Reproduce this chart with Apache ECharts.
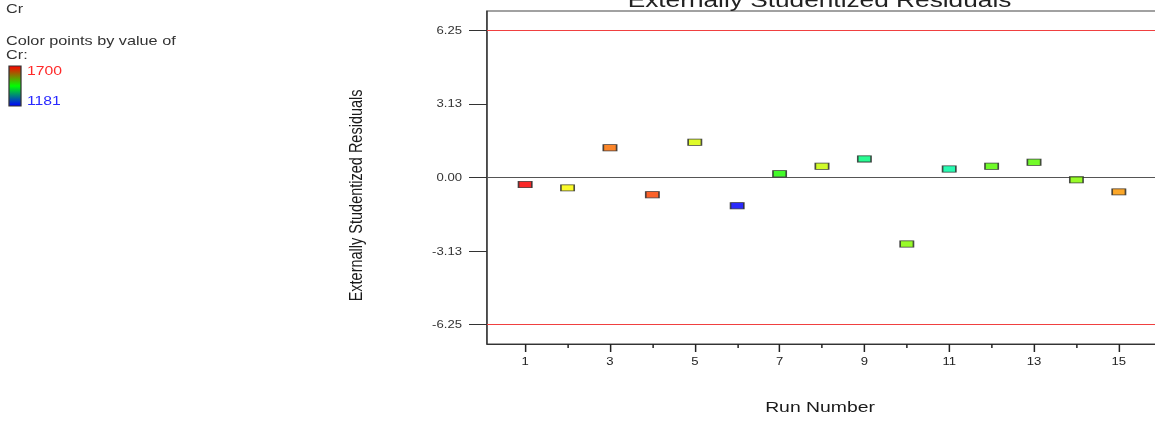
<!DOCTYPE html>
<html>
<head>
<meta charset="utf-8">
<title>Externally Studentized Residuals</title>
<script src="https://cdn.jsdelivr.net/npm/echarts@6/dist/echarts.min.js"></script>
<style>
  html, body { margin: 0; padding: 0; background: #ffffff; overflow: hidden; }
  #wrap { width: 1155px; height: 421px; overflow: hidden; position: relative; }
  /* the plot is laid out on a narrower canvas and widened 1.25x, like the exported graph;
     the canvas runs past the right edge so the plot frame continues out of view */
  #chart { width: 944px; height: 421px; transform: scaleX(1.25); transform-origin: 0 0; }
</style>
</head>
<body>
<div id="wrap"><div id="chart"></div></div>
<script>
// Run order of the 15 experiments
const runNumbers = [1, 2, 3, 4, 5, 6, 7, 8, 9, 10, 11, 12, 13, 14, 15];
// Externally studentized residual of each run
const residuals = [-0.30, -0.44, 1.26, -0.73, 1.50, -1.20, 0.16, 0.48, 0.79, -2.82, 0.36, 0.48, 0.65, -0.10, -0.61];
// Point colour by the response value of Cr (blue = 1181 ... red = 1700)
const pointColors = ['#ff0000', '#ffff00', '#ff7000', '#ff4400', '#ddff00', '#0000ff', '#22ff00', '#ccff00',
                     '#00ff80', '#88ff00', '#00ffa8', '#55ff00', '#5aff00', '#88ff00', '#ff9900'];
// Colour key limits
const crRange = { high: 1700, low: 1181 };
// Axis ticks
const yTickValues = [-6.25, -3.13, 0.00, 3.13, 6.25];
const limitValues = [6.25, -6.25];
const xLabelValues = [1, 3, 5, 7, 9, 11, 13, 15];
const xMinorValues = [2, 4, 6, 8, 10, 12, 14];
// Text
const titleText = 'Externally Studentized Residuals';
const xAxisTitle = 'Run Number';
const yAxisTitle = 'Externally Studentized Residuals';
const responseName = 'Cr';

const FONT = '"Liberation Sans", Arial, Helvetica, sans-serif';
const X_MIN = 0.1, X_MAX = 15.9, Y_LIM = 7.07;

const chart = echarts.init(document.getElementById('chart'), null, { renderer: 'svg' });

const points = runNumbers.map((r, i) => ({
  value: [r, residuals[i]],
  itemStyle: { color: pointColors[i] }
}));

const option = {
  animation: false,
  backgroundColor: '#ffffff',
  grid: {
    left: 389.6, top: 11, width: 536, height: 333,
    outerBoundsMode: 'none',
    show: true, borderColor: '#444', borderWidth: 1, backgroundColor: 'transparent'
  },
  xAxis: [
    {
      type: 'value', min: X_MIN, max: X_MAX, position: 'bottom',
      axisLine: { show: true, onZero: false, lineStyle: { color: '#333', width: 1 } },
      axisTick: { show: true, customValues: xLabelValues, length: 8, lineStyle: { color: '#222', width: 1.2 } },
      axisLabel: { show: true, customValues: xLabelValues, margin: 12, fontSize: 10.5, color: '#222', fontFamily: FONT },
      splitLine: { show: false }
    },
    {
      type: 'value', min: X_MIN, max: X_MAX, position: 'bottom',
      axisLine: { show: false, onZero: false },
      axisTick: { show: true, customValues: xMinorValues, length: 4, lineStyle: { color: '#222', width: 1.2 } },
      axisLabel: { show: false },
      splitLine: { show: false }
    }
  ],
  yAxis: {
    type: 'value', min: -Y_LIM, max: Y_LIM,
    axisLine: { show: true, onZero: false, lineStyle: { color: '#333', width: 1 } },
    axisTick: { show: true, customValues: yTickValues, length: 14.4, lineStyle: { color: '#333', width: 1 } },
    axisLabel: {
      show: true, customValues: yTickValues, margin: 20, fontSize: 10.5, color: '#333', fontFamily: FONT,
      formatter: v => Number(v).toFixed(2)
    },
    splitLine: { show: false }
  },
  series: [
    {
      type: 'scatter',
      xAxisIndex: 0,
      z: 10,
      symbol: 'rect',
      symbolSize: [10.6, 6.2],
      itemStyle: {
        borderColor: '#2a2a2a', borderWidth: 1,
        shadowColor: 'rgba(0,0,0,0.25)', shadowBlur: 1
      },
      data: points,
      markLine: {
        silent: true,
        symbol: ['none', 'none'],
        label: { show: false },
        data: [
          { yAxis: 0, lineStyle: { color: '#555', width: 1, type: 'solid' } },
          ...limitValues.map(v => ({ yAxis: v, lineStyle: { color: '#f04040', width: 1, type: 'solid' } }))
        ]
      }
    }
  ],
  graphic: [
    // chart title, mostly above the visible area
    { type: 'text', x: 655.6, y: -0.5, silent: true,
      style: { text: titleText, fontSize: 21, fontFamily: FONT, fill: '#222', align: 'center', verticalAlign: 'middle' } },
    // axis titles
    { type: 'text', x: 284.3, y: 195.4, rotation: Math.PI / 2, silent: true,
      style: { text: yAxisTitle, fontSize: 14.5, fontFamily: FONT, fill: '#1a1a1a', align: 'center', verticalAlign: 'middle' } },
    { type: 'text', x: 656, y: 407, silent: true,
      style: { text: xAxisTitle, fontSize: 15.5, fontFamily: FONT, fill: '#1a1a1a', align: 'center', verticalAlign: 'middle' } },
    // colour key
    { type: 'text', x: 4.8, y: 9, silent: true,
      style: { text: responseName, fontSize: 13, fontFamily: FONT, fill: '#333', verticalAlign: 'middle' } },
    { type: 'text', x: 4.8, y: 40.5, silent: true,
      style: { text: 'Color points by value of', fontSize: 13, fontFamily: FONT, fill: '#333', verticalAlign: 'middle' } },
    { type: 'text', x: 4.8, y: 55, silent: true,
      style: { text: responseName + ':', fontSize: 13, fontFamily: FONT, fill: '#333', verticalAlign: 'middle' } },
    { type: 'rect', silent: true,
      shape: { x: 7.2, y: 66, width: 9.6, height: 40 },
      style: {
        fill: new echarts.graphic.LinearGradient(0, 0, 0, 1, [
          { offset: 0, color: '#ff0000' },
          { offset: 0.5, color: '#00ff00' },
          { offset: 1, color: '#0000ff' }
        ]),
        stroke: '#333', lineWidth: 1
      } },
    { type: 'text', x: 21.6, y: 71, silent: true,
      style: { text: String(crRange.high), fontSize: 12.6, fontFamily: FONT, fill: '#ff2a2a', verticalAlign: 'middle' } },
    { type: 'text', x: 21.6, y: 100.5, silent: true,
      style: { text: String(crRange.low), fontSize: 12.6, fontFamily: FONT, fill: '#2a2aff', verticalAlign: 'middle' } }
  ]
};

chart.setOption(option);
</script>
</body>
</html>
